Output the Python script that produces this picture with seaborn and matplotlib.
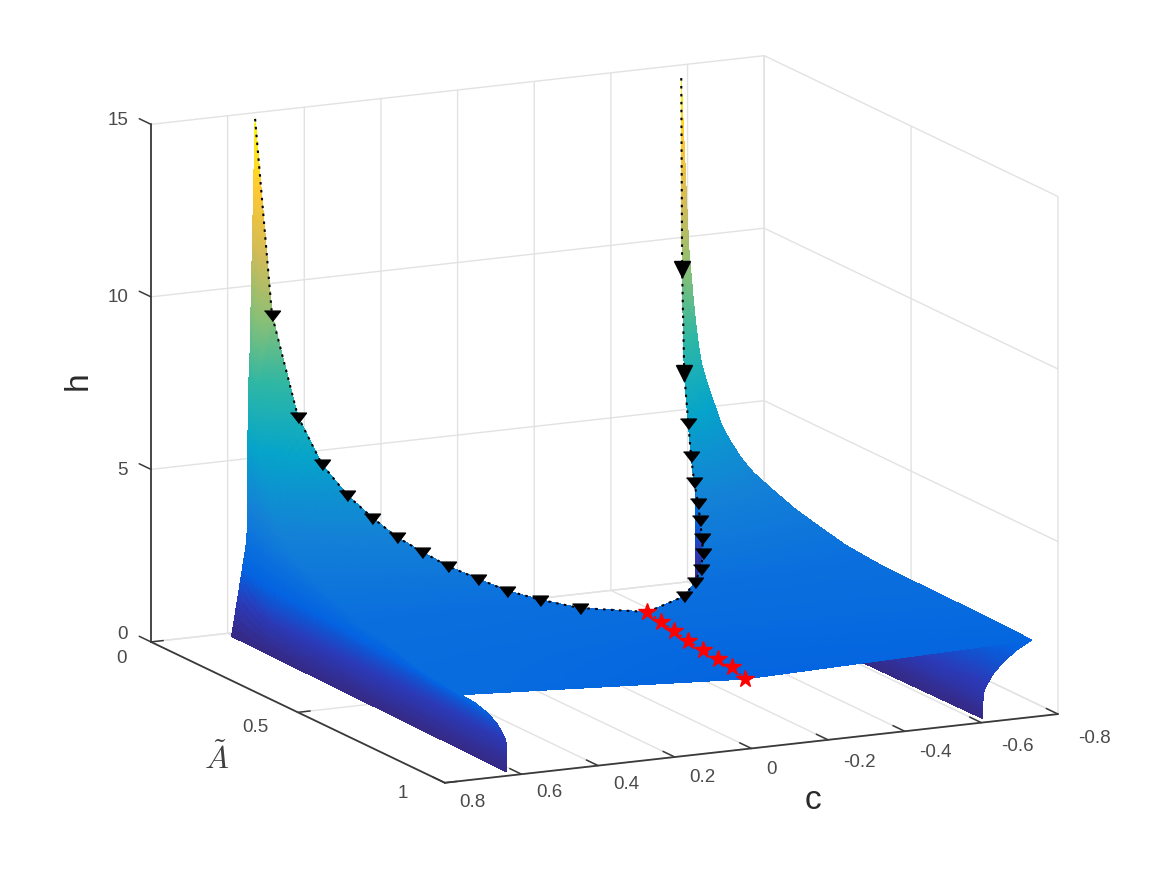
import numpy as np
import matplotlib
matplotlib.use("Agg")
import matplotlib.pyplot as plt
import seaborn as sns
from mpl_toolkits.mplot3d import proj3d

# Fold curve: positions of the triangle markers
A_fold = [0.0663, 0.114, 0.1616, 0.209, 0.257, 0.306, 0.352, 0.40, 0.452, 0.498, 0.544, 0.5935]
c_fold = [0.535, 0.504, 0.478, 0.449, 0.420, 0.393, 0.363, 0.331, 0.294, 0.253, 0.202, 0.136]
h_fold = [9.41, 6.63, 5.41, 4.68, 4.18, 3.78, 3.51, 3.24, 3.05, 2.84, 2.70, 2.58]

# Upper end of the fold curve on each wing
A_top, c_top = 0.036, 0.556
h_top_pos, h_top_neg = 15.0, 14.8

# Ridge at c = 0: positions of the star markers
A_star = [0.646, 0.694, 0.737, 0.784, 0.835, 0.886, 0.934, 0.978]
h_star = [2.51, 2.41, 2.33, 2.23, 2.18, 2.13, 2.09, 1.92]

# Outer crease of the surface on each wing
A_crease = [0.02, 0.05, 0.07, 0.10, 0.12, 0.14, 0.17, 0.20, 0.25, 0.30, 0.35, 0.45, 0.55, 0.65, 0.80, 0.978]
c_crease_pos = [0.565, 0.584, 0.585, 0.59, 0.595, 0.60, 0.61, 0.62, 0.635, 0.645, 0.652, 0.668, 0.682, 0.695, 0.725, 0.744]
c_crease_neg = [0.605, 0.584, 0.585, 0.59, 0.595, 0.60, 0.61, 0.62, 0.635, 0.645, 0.652, 0.668, 0.682, 0.695, 0.725, 0.749]
h_crease_pos = [2.74, 7.48, 6.49, 5.68, 5.09, 4.73, 4.26, 3.94, 3.60, 3.33, 3.15, 2.85, 2.68, 2.60, 2.45, 2.39]
h_crease_neg = [2.74, 7.48, 6.49, 5.68, 5.09, 4.73, 4.26, 3.94, 3.60, 3.33, 3.15, 2.81, 2.63, 2.53, 2.32, 2.12]

# Foot of the surface on the h = 0 floor
A_foot = [0.02, 0.978]
c_foot = [0.605, 0.621]

# Shape of the lower curtain, as fractions from foot to crease
curtain_c = [0.0, 0.0, 0.024, 0.195, 0.407, 0.683, 1.0]
curtain_h = [0.0, 0.233, 0.389, 0.586, 0.741, 0.883, 1.0]

# Where the curtain leans inward, it reaches the crease value at this height
lean_h = [0.0, 1.5, 2.74]
lean_c = [0.0, 0.55, 1.0]

# Parula colours over the h range 0 to 15
parula = ["#352A87", "#2A3AB8", "#0363E1", "#0C72DC", "#1481D6", "#0D92D0",
          "#06A4CA", "#1AAEB7", "#2EB7A4", "#5ABB8D", "#87BF77", "#ACBD68",
          "#D1BB59", "#E8C245", "#FEC832", "#FCE220", "#F9FB0E"]

c_ticks = [-0.8, -0.6, -0.4, -0.2, 0, 0.2, 0.4, 0.6, 0.8]
c_labels = ["-0.8", "-0.6", "-0.4", "-0.2", "0", "0.2", "0.4", "0.6", "0.8"]
A_ticks = [0, 0.5, 1]
A_labels = ["0", "0.5", "1"]
h_ticks = [0, 5, 10, 15]
h_labels = ["0", "5", "10", "15"]

sns.set_theme(style="white", rc={"grid.color": "#e2e2e2", "grid.linewidth": 1.0,
                                 "mathtext.fontset": "cm"})
plt.rcParams["font.family"] = ["Liberation Sans", "DejaVu Sans"]
cmap = sns.blend_palette(parula, as_cmap=True)

W, H = 1167, 875
fig = plt.figure(figsize=(W / 100, H / 100), dpi=100, facecolor="white")
side = 0.9
ax = fig.add_axes([0.05, 0.05, side * H / W, side], projection="3d", proj_type="ortho",
                  computed_zorder=False)
ax.view_init(elev=13.4, azim=-25.8)
ax.set_box_aspect((675, 681, 532))
ax.set_xlim(0, 1)
ax.set_ylim(0.8, -0.8)
ax.set_zlim(0, 15)
ax.set_facecolor("white")


def wing(sign, c_crease, h_crease, h_top):
    """Mesh of one wing: floor -> crease -> fold or ridge, along rising A."""
    rows = np.concatenate([np.linspace(0.02, 0.12, 60), np.linspace(0.12, 0.978, 110)[1:]])
    vc = np.linspace(0, 1, 37)
    vt = np.linspace(0, 1, 30)[1:]
    frac_x = np.linspace(0, 1, len(curtain_c))
    fc = np.interp(vc, frac_x, curtain_c)
    fh = np.interp(vc, frac_x, curtain_h)
    A_in = [A_top] + A_fold + [A_star[0]]
    c_in = [c_top] + c_fold + [0.0]
    h_in = [h_top] + h_fold + [h_star[0]]
    AA, CC, HH = [], [], []
    for a in rows:
        c0 = np.interp(a, A_foot, c_foot)
        co = np.interp(a, A_crease, c_crease)
        ho = np.interp(a, A_crease, h_crease)
        a_i = max(a, A_top)
        ci = np.interp(a_i, A_in, c_in)
        hi = np.interp(a_i, A_in, h_in) if a_i < A_star[0] else np.interp(a_i, A_star, h_star)
        h_low = ho * fh
        frac = np.interp(h_low, lean_h, lean_c) if co < c0 else fc
        AA.append(np.concatenate([np.full_like(vc, a), a + (a_i - a) * vt]))
        CC.append(np.concatenate([c0 + (co - c0) * frac, co + (ci - co) * vt]))
        HH.append(np.concatenate([h_low, ho + (hi - ho) * vt]))
    return np.array(AA), sign * np.array(CC), np.array(HH)


for sign, c_crease, h_crease, h_top, order in [(-1, c_crease_neg, h_crease_neg, h_top_neg, 1),
                                               (1, c_crease_pos, h_crease_pos, h_top_pos, 2)]:
    AA, CC, HH = wing(sign, c_crease, h_crease, h_top)
    ax.plot_surface(AA, CC, HH, facecolors=cmap(HH / 15.0), rstride=1, cstride=1, shade=False,
                    linewidth=0.4, edgecolor="none", antialiased=False, zorder=order)

# Dotted fold curves with their triangle markers
path_A = np.array([A_top] + A_fold + [A_star[0]])
path_c = np.array([c_top] + c_fold + [0.0])
dots = (0, (1.2, 2.6))
flat_v = [(-1.0, 0.55), (1.0, 0.55), (0.0, -0.75)]
for sign, h_top in ((1, h_top_pos), (-1, h_top_neg)):
    path_h = np.array([h_top] + h_fold + [h_star[0]])
    ax.plot(path_A, sign * path_c, path_h, color="black", lw=1.5, ls=dots, zorder=5)
ax.plot(A_fold, np.array(c_fold), h_fold, ls="none", marker=flat_v, ms=11.5,
        mfc="black", mec="black", zorder=6)
ax.plot(A_fold[2:], -np.array(c_fold[2:]), h_fold[2:], ls="none", marker=flat_v, ms=11.5,
        mfc="black", mec="black", zorder=6)
ax.plot(A_fold[:2], -np.array(c_fold[:2]), h_fold[:2], ls="none", marker="v", ms=11.5,
        mfc="black", mec="black", zorder=6)

# Star markers along the ridge
ax.plot(A_star, np.zeros(len(A_star)), h_star, color="red", lw=1.5, ls=dots, marker="*",
        ms=13, mfc="red", mec="red", zorder=7)

# Axes and ticks; the tick labels are placed separately below
ax.set_xticks(A_ticks)
ax.set_yticks(c_ticks)
ax.set_zticks(h_ticks)
ax.grid(True)
tick_out = {"x": 0.25, "y": 0.5, "z": 0.5}
for name, axis in (("x", ax.xaxis), ("y", ax.yaxis), ("z", ax.zaxis)):
    axis.set_pane_color((1, 1, 1, 0))
    axis.pane.set_edgecolor("#e2e2e2")
    axis.line.set_color("#3a3a3a")
    axis.line.set_linewidth(1.3)
    axis._axinfo["tick"].update(inward_factor=0.0, outward_factor=tick_out[name],
                                linewidth={True: 1.1, False: 1.1}, color="#3a3a3a")
    axis.set_tick_params(colors="#3a3a3a", labelbottom=False, labelleft=False)
ax.zaxis.set_ticks_position("upper")


def to_px(a, c, h):
    x, y, _ = proj3d.proj_transform(a, c, h, ax.get_proj())
    px, py = ax.transData.transform((x, y))
    return px, H - py


# Fit the box onto the canvas: back-left floor corner and front-right floor corner
fig.canvas.draw()
x0, y0 = to_px(0, 0.8, 0)
x1, y1 = to_px(1, -0.8, 0)
scale = (1058 - 151) / (x1 - x0)
size = side * H * scale
mid_x, mid_y = (x0 + x1) / 2, (y0 + y1) / 2
pos = ax.get_position()
cx, cy = (pos.x0 + pos.x1) / 2 * W, H - (pos.y0 + pos.y1) / 2 * H
new_cx = (151 + 1058) / 2 - (mid_x - cx) * scale
new_cy = (642 + 714) / 2 - (mid_y - cy) * scale
ax.set_position([(new_cx - size / 2) / W, 1 - (new_cy + size / 2) / H, size / W, size / H])
fig.canvas.draw()


def place(a, c, h, label, **style):
    """Write a label at the canvas position of a point in data coordinates."""
    px, py = to_px(a, c, h)
    fig.text(px / W, 1 - py / H, label, **style)


# Tick labels sit next to the ticks
tick_style = dict(fontsize=13.5, color="#4a4a4a", va="center")
c_label_A = [1.067, 1.067, 1.05, 1.05, 1.05, 1.05, 1.05, 1.05, 1.05]
c_label_h = [-0.43, -0.43, -0.42, -0.44, -0.42, -0.39, -0.33, -0.33, -0.36]
for value, label, a_pos, h_pos in zip(c_ticks, c_labels, c_label_A, c_label_h):
    place(a_pos, value, h_pos, label, ha="left", **tick_style)
A_label_c = [0.862, 0.878, 0.896]
A_label_h = [-0.39, -0.34, -0.19]
for value, label, c_pos, h_pos in zip(A_ticks, A_labels, A_label_c, A_label_h):
    place(value, c_pos, h_pos, label, ha="right", **tick_style)
for value, label, nudge in zip(h_ticks, h_labels, [0.3, 0.03, 0.05, 0.2]):
    place(0, 0.86, value + nudge, label, ha="right", **tick_style)

# Axis titles
place(0.5, 1.013, -1.1, r"$\tilde{A}$", fontsize=23, color="#404040", ha="center", va="center")
place(1, -0.16, -1.72, "c", fontsize=24, color="#2a2a2a", ha="center", va="center")
place(0, 0.99, 7.82, "h", rotation=90, fontsize=24, color="#2a2a2a", ha="center", va="center")

fig.savefig("out.png", dpi=100, facecolor="white")
